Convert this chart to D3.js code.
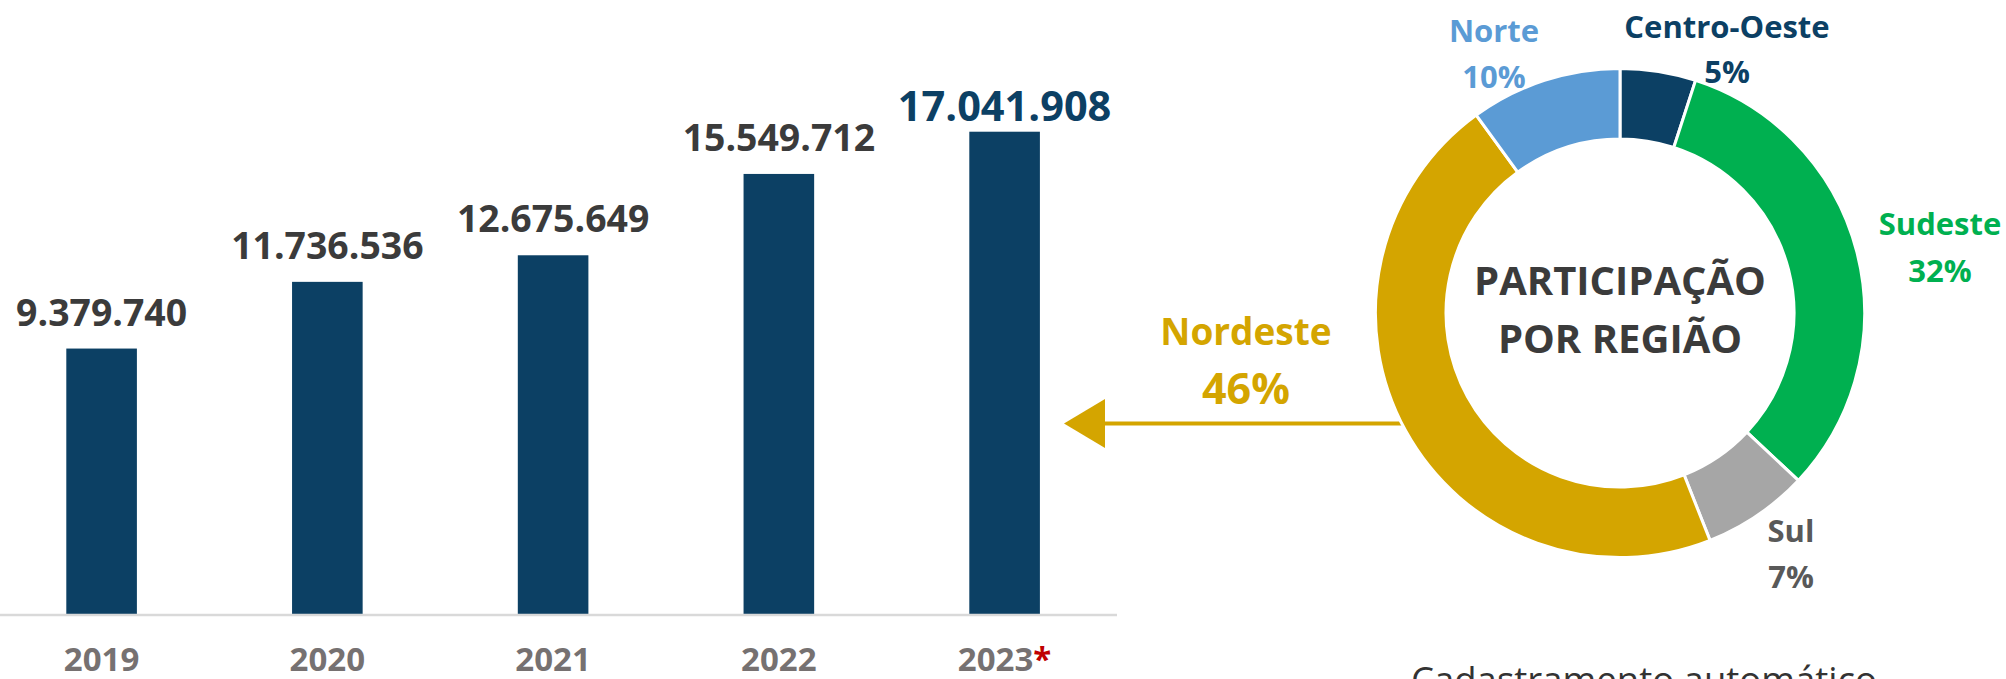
<!DOCTYPE html>
<html>
<head>
<meta charset="utf-8">
<script src="https://cdn.jsdelivr.net/npm/d3@7"></script>
<style>
  html, body { margin: 0; padding: 0; background: #ffffff; }
  svg { display: block; font-family: "Open Sans", "Liberation Sans", sans-serif; }
</style>
</head>
<body>
<svg id="chart" width="2006" height="679"></svg>
<script>
// ---------- data ----------
const years = ["2019", "2020", "2021", "2022", "2023"];
const cadastros = [9379740, 11736536, 12675649, 15549712, 17041908];
const regions = ["Centro-Oeste", "Sudeste", "Sul", "Nordeste", "Norte"];
const regionShare = [5, 32, 7, 46, 10];
const centerTitle = ["PARTICIPAÇÃO", "POR REGIÃO"];
const footnote = "Cadastramento automático";

// ---------- styles / layout ----------
const navy = "#0c4064";
const regionColors = { "Centro-Oeste": navy, "Sudeste": "#00b050", "Sul": "#a6a6a6", "Nordeste": "#d4a500", "Norte": "#5b9bd5" };
const regionTextColors = { "Centro-Oeste": navy, "Sudeste": "#00b050", "Sul": "#595959", "Nordeste": "#d4a500", "Norte": "#5b9bd5" };
const regionLabelPos = {
  "Centro-Oeste": { x: 1727, y1: 38, y2: 83, size: 31 },
  "Sudeste": { x: 1940, y1: 235, y2: 282, size: 31 },
  "Sul": { x: 1791, y1: 542, y2: 588, size: 31 },
  "Nordeste": { x: 1246, y1: 345, y2: 404, size: 37, size2: 43 },
  "Norte": { x: 1494, y1: 42, y2: 88, size: 31 }
};

const svg = d3.select("#chart");
const fmt = d3.formatLocale({ decimal: ",", thousands: ".", grouping: [3], currency: ["R$", ""] }).format(",d");

// ---------- bar chart ----------
const x = d3.scaleBand().domain(years).range([0, 1106.2]).paddingInner(0.6873).paddingOuter(0.2937);
const y = d3.scaleLinear().domain([0, 20000000]).range([614, 48]);

svg.append("g").selectAll("rect")
  .data(years)
  .join("rect")
  .attr("x", d => x(d))
  .attr("width", x.bandwidth())
  .attr("y", (d, i) => y(cadastros[i]))
  .attr("height", (d, i) => y(0) - y(cadastros[i]))
  .attr("fill", navy);

svg.append("line")
  .attr("x1", 0).attr("x2", 1117)
  .attr("y1", y(0) + 1).attr("y2", y(0) + 1)
  .attr("stroke", "#d9d9d9").attr("stroke-width", 2.5);

const last = years.length - 1;
svg.append("g").selectAll("text")
  .data(years)
  .join("text")
  .attr("x", d => x(d) + x.bandwidth() / 2)
  .attr("y", (d, i) => y(cadastros[i]) - (i === last ? 11 : 23))
  .attr("text-anchor", "middle")
  .attr("font-weight", 700)
  .attr("font-size", (d, i) => i === last ? 41.5 : 37.4)
  .attr("fill", (d, i) => i === last ? navy : "#3b3b3b")
  .text((d, i) => fmt(cadastros[i]));

const xAxis = svg.append("g")
  .attr("transform", `translate(0,${y(0)})`)
  .call(d3.axisBottom(x).tickSize(0).tickPadding(0));
xAxis.select(".domain").remove();
xAxis.selectAll("text")
  .attr("y", 57)
  .attr("dy", 0)
  .attr("font-family", "'Open Sans', sans-serif")
  .attr("font-size", 33)
  .attr("font-weight", 700)
  .attr("fill", "#767171")
  .each(function (d, i) {
    if (i === last) {
      d3.select(this).append("tspan").attr("fill", "#c00000").text("*");
    }
  });

// ---------- arrow ----------
const gold = regionColors["Nordeste"];
svg.append("line")
  .attr("x1", 1100).attr("x2", 1402)
  .attr("y1", 423.5).attr("y2", 423.5)
  .attr("stroke", gold).attr("stroke-width", 4);
svg.append("path")
  .attr("d", d3.line()([[1064, 423.5], [1105, 399], [1105, 448]]) + "Z")
  .attr("fill", gold);

// ---------- donut ----------
const cx = 1620, cy = 313;
const pie = d3.pie().sort(null).value(d => d)(regionShare);
const arc = d3.arc().innerRadius(174).outerRadius(244.6);
const donut = svg.append("g").attr("transform", `translate(${cx},${cy})`);
donut.selectAll("path")
  .data(pie)
  .join("path")
  .attr("d", arc)
  .attr("fill", (d, i) => regionColors[regions[i]])
  .attr("stroke", "#ffffff")
  .attr("stroke-width", 3);

donut.selectAll("text.title")
  .data(centerTitle)
  .join("text")
  .attr("class", "title")
  .attr("x", 0)
  .attr("y", (d, i) => i === 0 ? -18 : 40)
  .attr("text-anchor", "middle")
  .attr("font-size", 40)
  .attr("font-weight", 700)
  .attr("fill", "#3b3b3b")
  .text(d => d);

const lab = svg.append("g").selectAll("g")
  .data(regions)
  .join("g");
lab.append("text")
  .attr("x", d => regionLabelPos[d].x)
  .attr("y", d => regionLabelPos[d].y1)
  .attr("text-anchor", "middle")
  .attr("font-weight", 700)
  .attr("font-size", d => regionLabelPos[d].size)
  .attr("fill", d => regionTextColors[d])
  .text(d => d);
lab.append("text")
  .attr("x", d => regionLabelPos[d].x)
  .attr("y", d => regionLabelPos[d].y2)
  .attr("text-anchor", "middle")
  .attr("font-weight", 700)
  .attr("font-size", d => regionLabelPos[d].size2 || regionLabelPos[d].size)
  .attr("fill", d => regionTextColors[d])
  .text((d, i) => regionShare[i] + "%");

// ---------- footnote (cut off at bottom, as in the source) ----------
svg.append("text")
  .attr("x", 1644)
  .attr("y", 693)
  .attr("text-anchor", "middle")
  .attr("font-size", 36.5)
  .attr("fill", "#333333")
  .text(footnote);
</script>
</body>
</html>
